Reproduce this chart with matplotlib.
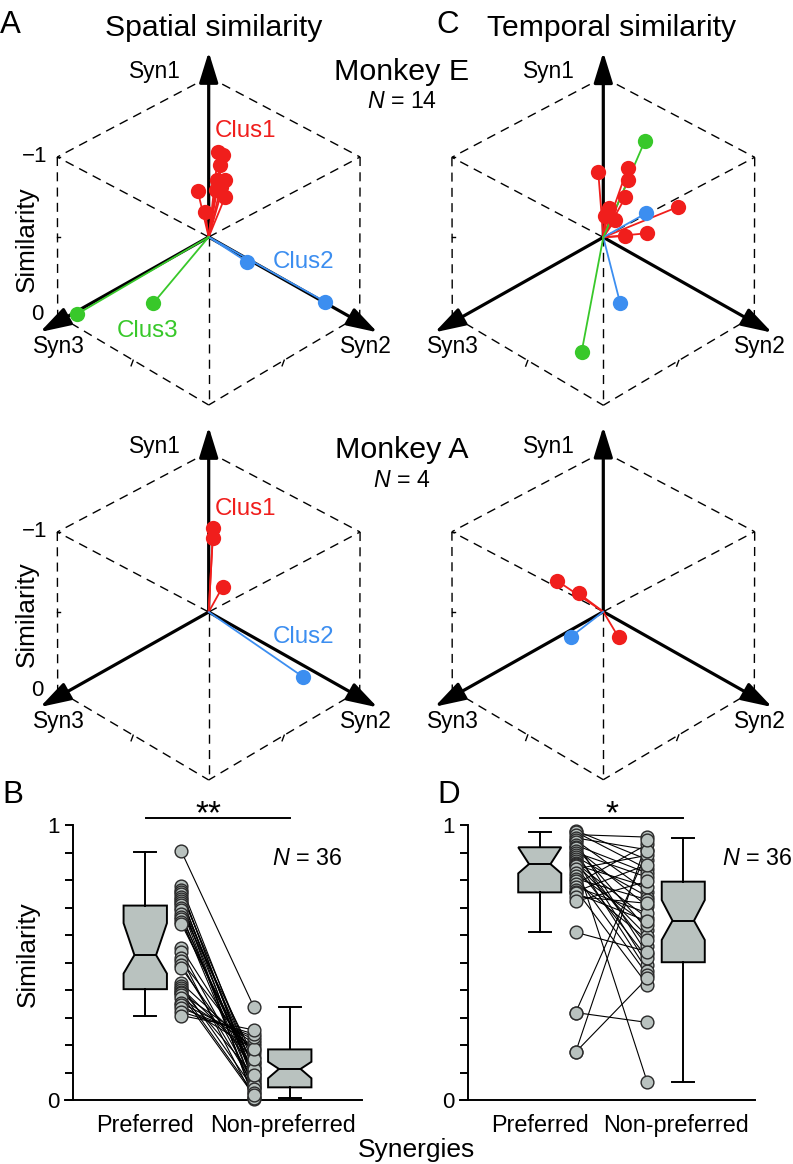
import matplotlib
matplotlib.use('Agg')
import matplotlib.pyplot as plt
import numpy as np
from matplotlib.ticker import MultipleLocator

plt.rcParams['font.family'] = ['Liberation Sans', 'DejaVu Sans']
plt.rcParams['mathtext.fontset'] = 'custom'
plt.rcParams['mathtext.rm'] = 'Liberation Sans'
plt.rcParams['mathtext.it'] = 'Liberation Sans:italic'

# ---------------- data ----------------
# Projected synergy-similarity vectors (horizontal, vertical; hexagon radius = 1)
spatE_c1_x = [0.055, 0.084, 0.065, 0.049, 0.093, 0.042, 0.093, -0.063, -0.021, 0.069]
spatE_c1_y = [0.533, 0.513, 0.450, 0.356, 0.356, 0.294, 0.248, 0.288, 0.154, 0.314]
spatE_c2_x = [0.218, 0.667]
spatE_c2_y = [-0.154, -0.404]
spatE_c3_x = [-0.753, -0.318]
spatE_c3_y = [-0.481, -0.414]

tempE_c1_x = [-0.029, 0.139, 0.143, 0.127, 0.033, 0.067, 0.430, 0.249, 0.124, 0.010]
tempE_c1_y = [0.410, 0.431, 0.358, 0.252, 0.181, 0.108, 0.191, 0.025, 0.008, 0.133]
tempE_c2_x = [0.245, 0.096]
tempE_c2_y = [0.150, -0.409]
tempE_c3_x = [0.239, -0.124]
tempE_c3_y = [0.604, -0.715]

spatA_c1_x = [0.026, 0.023, 0.080]
spatA_c1_y = [0.523, 0.461, 0.158]
spatA_c2_x = [0.539]
spatA_c2_y = [-0.404]

tempA_c1_x = [-0.268, -0.142, 0.088]
tempA_c1_y = [0.195, 0.115, -0.161]
tempA_c2_x = [-0.185]
tempA_c2_y = [-0.156]

syn_labels = ['Syn1', 'Syn2', 'Syn3']
categories = ['Preferred', 'Non-preferred']

# Panel B: spatial similarity, paired (preferred, non-preferred)
B_pref = [0.904, 0.777, 0.765, 0.758, 0.748, 0.74, 0.73, 0.722, 0.715, 0.708, 0.70, 0.69,
          0.675, 0.667, 0.66, 0.649, 0.64, 0.552, 0.54, 0.516, 0.505, 0.492, 0.48, 0.425,
          0.415, 0.407, 0.40, 0.394, 0.388, 0.382, 0.37, 0.352, 0.345, 0.334, 0.32, 0.307]
B_nonpref = [0.34, 0.109, 0.065, 0.08, 0.133, 0.045, 0.095, 0.002, 0.118, 0.073, 0.012, 0.158,
             0.049, 0.085, 0.03, 0.1, 0.125, 0.14, 0.06, 0.006, 0.17, 0.055, 0.113, 0.182,
             0.04, 0.15, 0.091, 0.025, 0.206, 0.018, 0.195, 0.22, 0.185, 0.23, 0.24, 0.255]
# box stats: whislo, q1, median, q3, whishi, notch low, notch high
B_box_pref = [0.307, 0.403, 0.527, 0.707, 0.903, 0.46, 0.643]
B_box_nonpref = [0.006, 0.046, 0.113, 0.184, 0.34, 0.079, 0.139]

# Panel D: temporal similarity
D_pref = [0.98, 0.975, 0.965, 0.953, 0.945, 0.94, 0.927, 0.92, 0.915, 0.905, 0.9, 0.892,
          0.885, 0.875, 0.868, 0.862, 0.86, 0.855, 0.85, 0.84, 0.825, 0.815, 0.805, 0.795,
          0.785, 0.775, 0.765, 0.758, 0.752, 0.74, 0.722, 0.61, 0.318, 0.318, 0.174, 0.174]
D_nonpref = [0.874, 0.84, 0.956, 0.91, 0.758, 0.53, 0.825, 0.62, 0.704, 0.492, 0.81, 0.56,
             0.74, 0.47, 0.064, 0.661, 0.595, 0.775, 0.516, 0.89, 0.637, 0.455, 0.728, 0.583,
             0.93, 0.68, 0.419, 0.856, 0.65, 0.715, 0.795, 0.54, 0.282, 0.904, 0.443, 0.947]
D_box_pref = [0.61, 0.755, 0.858, 0.919, 0.975, 0.824, 0.919]
D_box_nonpref = [0.064, 0.501, 0.652, 0.794, 0.954, 0.582, 0.727]

# ---------------- style ----------------
RED = '#f01e1c'
BLUE = '#3c8ef0'
GREEN = '#38c82a'
GRAY = '#b9c2bf'
W, H = 793, 1164
SX, SY = 174.4, 160.0   # pixels per unit in radar panels

fig = plt.figure(figsize=(W / 100, H / 100), dpi=100)


def fx(px):
    return px / W


def fy(py):
    return 1 - py / H


def ftext(px, py, s, **kw):
    return fig.text(fx(px), fy(py), s, **kw)


def radar(cx, cy, clusters, ylabels=True):
    x0, x1 = cx - 185, cx + 185
    y0, y1 = cy - 200, cy + 185
    ax = fig.add_axes([fx(x0), fy(y1), (x1 - x0) / W, (y1 - y0) / H])
    ax.set_xlim((x0 - cx) / SX, (x1 - cx) / SX)
    ax.set_ylim((cy - y1) / SY, (cy - y0) / SY)
    ax.axis('off')
    top = (0, 1.0); ul = (-0.868, 0.5); ur = (0.868, 0.5)
    ll = (-0.866, -0.49); lr = (0.866, -0.49); bot = (0, -1.05)
    edges = [(top, ul), (top, ur), (ul, ll), (ur, lr), (ll, bot), (lr, bot),
             ((0, 0), ul), ((0, 0), ur), ((0, 0), bot)]
    for a, b in edges:
        ax.plot([a[0], b[0]], [a[1], b[1]], color='k', lw=1.0,
                dashes=(6.5, 4.5), zorder=1)
    # small ticks
    for (a, b) in [(ll, bot), (lr, bot)]:
        mx, my = (a[0] + b[0]) / 2, (a[1] + b[1]) / 2
        ax.plot([mx, mx - 0.012], [my, my - 0.035], color='k', lw=1.0, zorder=1)
    for yy in [0.5, 0.0, -0.49]:
        ax.plot([-0.868, -0.85], [yy, yy], color='k', lw=1.0, zorder=1)
    # axes arrows
    tips = [(0, 1.157), (0.968, -0.596), (-0.967, -0.594)]
    for t in tips:
        ax.annotate('', xy=t, xytext=(0, 0),
                    arrowprops=dict(arrowstyle='-|>,head_length=0.55,head_width=0.17',
                                    lw=2.3, color='k', shrinkA=0, shrinkB=0,
                                    mutation_scale=34), zorder=2)
    for xs, ys, col in clusters:
        for x, y in zip(xs, ys):
            ax.plot([0, x], [0, y], color=col, lw=1.3, zorder=3, solid_capstyle='round')
        ax.plot(xs, ys, 'o', color=col, ms=11, mew=0, zorder=4)
    # labels
    ftext(cx - 28, cy - 159, syn_labels[0], ha='right', va='baseline', fontsize=16.4)
    ftext(cx + 157, cy + 116, syn_labels[1], ha='center', va='baseline', fontsize=16.4)
    ftext(cx - 150, cy + 116, syn_labels[2], ha='center', va='baseline', fontsize=16.4)
    if ylabels:
        ftext(47, cy - 80, '\u22121', ha='right', va='center', fontsize=16)
        ftext(43, cy + 78, '0', ha='right', va='center', fontsize=16)
        ftext(27, cy + 2, 'Similarity', ha='center', va='center', rotation=90, fontsize=18.8)
    return ax


radar(208.7, 237.0, [(spatE_c1_x, spatE_c1_y, RED), (spatE_c2_x, spatE_c2_y, BLUE),
                     (spatE_c3_x, spatE_c3_y, GREEN)])
radar(603.3, 237.3, [(tempE_c1_x, tempE_c1_y, RED), (tempE_c2_x, tempE_c2_y, BLUE),
                     (tempE_c3_x, tempE_c3_y, GREEN)], ylabels=False)
radar(208.7, 612.0, [(spatA_c1_x, spatA_c1_y, RED), (spatA_c2_x, spatA_c2_y, BLUE)])
radar(603.3, 611.7, [(tempA_c1_x, tempA_c1_y, RED), (tempA_c2_x, tempA_c2_y, BLUE)],
      ylabels=False)

# cluster labels
ftext(215, 137, 'Clus1', color=RED, ha='left', va='baseline', fontsize=17.4)
ftext(273, 268, 'Clus2', color=BLUE, ha='left', va='baseline', fontsize=17.4)
ftext(117, 337, 'Clus3', color=GREEN, ha='left', va='baseline', fontsize=17.4)
ftext(215, 515, 'Clus1', color=RED, ha='left', va='baseline', fontsize=17.4)
ftext(273, 643, 'Clus2', color=BLUE, ha='left', va='baseline', fontsize=17.4)

# titles
ftext(0, 33, 'A', ha='left', va='baseline', fontsize=22.5)
ftext(214, 36, 'Spatial similarity', ha='center', va='baseline', fontsize=21.7)
ftext(436, 33, 'C', ha='left', va='baseline', fontsize=22.5)
ftext(612, 36, 'Temporal similarity', ha='center', va='baseline', fontsize=21.7)
ftext(402, 80, 'Monkey E', ha='center', va='baseline', fontsize=21.9)
ftext(402, 108, '$\\mathit{N}$ = 14', ha='center', va='baseline', fontsize=16.7)
ftext(402, 458, 'Monkey A', ha='center', va='baseline', fontsize=21.9)
ftext(402, 487, '$\\mathit{N}$ = 4', ha='center', va='baseline', fontsize=16.7)


def fx_inv(ax, xval):
    # pixel x of a data x value inside box axes (0.5..2.5 across axes width)
    pos = ax.get_position()
    frac = (xval - 0.5) / 2.0
    return (pos.x0 + frac * pos.width) * W


def paired_box(xa, xb, pref, nonpref, box_pref, box_nonpref, letter, letter_x, stars,
               star_x, line_x0, line_x1, n_right, ylabel):
    ax = fig.add_axes([fx(xa), fy(1100), (xb - xa) / W, 275 / H])
    ax.set_xlim(0.5, 2.5)
    ax.set_ylim(0, 1)
    stats = []
    for b in (box_pref, box_nonpref):
        stats.append(dict(whislo=b[0], q1=b[1], med=b[2], q3=b[3], whishi=b[4],
                          cilo=b[5], cihi=b[6], fliers=[]))
    lw = 1.4
    ax.bxp(stats, positions=[1, 2], widths=0.3, shownotches=True, patch_artist=True,
           showfliers=False,
           boxprops=dict(facecolor=GRAY, edgecolor='k', lw=lw),
           medianprops=dict(color='k', lw=lw),
           whiskerprops=dict(color='k', lw=lw),
           capprops=dict(color='k', lw=lw), manage_ticks=False)
    for p, q in zip(pref, nonpref):
        ax.plot([1.25, 1.75], [p, q], color='k', lw=0.8, zorder=3)
    ax.plot(np.full(len(pref), 1.25), pref, 'o', ms=9.2, mfc=GRAY, mec='#2a2a2a',
            mew=1.0, zorder=4, clip_on=False)
    ax.plot(np.full(len(nonpref), 1.75), nonpref, 'o', ms=9.2, mfc=GRAY, mec='#2a2a2a',
            mew=1.0, zorder=4, clip_on=False)
    for s in ['top', 'right']:
        ax.spines[s].set_visible(False)
    ax.spines['left'].set_linewidth(lw)
    ax.spines['bottom'].set_linewidth(lw)
    ax.spines['bottom'].set_bounds(0.5 - 8 / 144.5, 2.5)
    ax.set_yticks([0, 1])
    ax.set_yticklabels(['0', '1'], fontsize=16)
    ax.yaxis.set_minor_locator(MultipleLocator(0.1))
    ax.tick_params(axis='y', which='both', direction='out', length=5.8, width=lw, pad=4)
    ax.set_xticks([])
    ax.patch.set_visible(False)
    ftext(fx_inv(ax, 1.0), 1132, categories[0], ha='center', va='baseline', fontsize=16.8)
    ftext(fx_inv(ax, 1.95), 1132, categories[1], ha='center', va='baseline', fontsize=16.8)
    ftext(letter_x, 803, letter, ha='left', va='baseline', fontsize=22.5)
    ftext(star_x, 823, stars, ha='center', va='baseline', fontsize=24)
    fig.add_artist(plt.Line2D([fx(line_x0), fx(line_x1)], [fy(818), fy(818)],
                              color='k', lw=lw))
    ftext(n_right, 865, '$\\mathit{N}$ = 36', ha='right', va='baseline', fontsize=16.8)
    if ylabel:
        ftext(28, 954, 'Similarity', ha='center', va='center', rotation=90, fontsize=18.8)
    return ax


paired_box(73, 362, B_pref, B_nonpref, B_box_pref, B_box_nonpref, 'B', 2, '**', 208,
           146, 290, 342, True)
paired_box(468, 755, D_pref, D_nonpref, D_box_pref, D_box_nonpref, 'D', 437, '*', 612,
           540, 683, 792, False)

ftext(416, 1157, 'Synergies', ha='center', va='baseline', fontsize=19)

fig.savefig('out.png', dpi=100)
